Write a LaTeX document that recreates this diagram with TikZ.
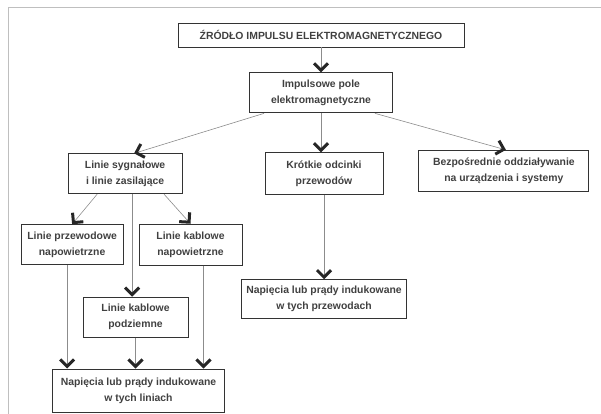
\documentclass[tikz,border=0pt]{standalone}
\usepackage{fontspec}
\setmainfont{Liberation Sans}
\usetikzlibrary{positioning, arrows.meta}

\begin{document}
\begin{tikzpicture}[x=1pt, y=1pt, font=\fontsize{10.4}{16}\selectfont\bfseries,
	block/.style={draw=black!80, line width=0.9pt, align=center, text=black!75, inner sep=0pt},
	arrow/.style={-{Straight Barb[length=7pt, width=14pt, line width=3pt, color=black!85]}, draw=black!45, line width=0.6pt}]
	\useasboundingbox (0,0) rectangle (601,-414);
	\draw[black!25, line width=0.8pt] (8,-414) -- (8,-7) -- (601,-7);
	
	% Poziom 1 i 2
	\node[block, minimum width=286pt, minimum height=24pt] (src) at (321,-35) {ŹRÓDŁO IMPULSU ELEKTROMAGNETYCZNEGO};
	\node[block, minimum width=143pt, minimum height=40pt, below=25pt of src] (pole) {Impulsowe pole\\elektromagnetyczne};
	
	% Poziom 3
	\node[block, minimum width=118pt, minimum height=42pt, below=39pt of pole, xshift=3pt] (krot) {Krótkie odcinki\\przewodów};
	\node[block, minimum width=114pt, minimum height=40pt, left=82pt of krot] (syg) {Linie sygnałowe\\i linie zasilające};
	\node[block, minimum width=170pt, minimum height=41pt, right=35pt of krot, yshift=3pt] (bezp) {Bezpośrednie oddziaływanie\\na urządzenia i systemy};
	
	% Linie
	\node[block, minimum width=102pt, minimum height=40pt, below=30pt of syg, xshift=-53pt] (przew) {Linie przewodowe\\napowietrzne};
	\node[block, minimum width=103pt, minimum height=41pt, right=15pt of przew] (kabnap) {Linie kablowe\\napowietrzne};
	\node[block, minimum width=105pt, minimum height=40pt, below=31pt of kabnap, xshift=-55pt] (podz) {Linie kablowe\\podziemne};
	
	% Skutki
	\node[block, minimum width=172pt, minimum height=43pt, below=31pt of podz, xshift=3pt] (nap_lin) {Napięcia lub prądy indukowane\\w tych liniach};
	\node[block, minimum width=165pt, minimum height=39pt, below=84pt of krot] (nap_prz) {Napięcia lub prądy indukowane\\w tych przewodach};
	
	\draw[arrow] (src) -- (pole);
	\draw[arrow] ([xshift=15pt]pole.south west) -- ([xshift=9pt]syg.north);
	\draw[arrow] (pole.south) -- (pole.south |- krot.north);
	\draw[arrow] ([xshift=-18pt]pole.south east) -- ([xshift=2pt]bezp.north);
	
	\draw[arrow] ([xshift=-28pt]syg.south) -- (przew.north);
	\draw[arrow] ([xshift=39pt]syg.south) -- (kabnap.north);
	\draw[arrow] ([xshift=7pt]syg.south) -- ([xshift=7pt]syg.south |- podz.north);
	
	\draw[arrow] ([xshift=-5pt]przew.south) -- ([xshift=-5pt]przew.south |- nap_lin.north);
	\draw[arrow] (podz.south) -- (podz.south |- nap_lin.north);
	\draw[arrow] ([xshift=13pt]kabnap.south) -- ([xshift=13pt]kabnap.south |- nap_lin.north);
	
	\draw[arrow] (krot) -- (nap_prz);
\end{tikzpicture}
\end{document}
